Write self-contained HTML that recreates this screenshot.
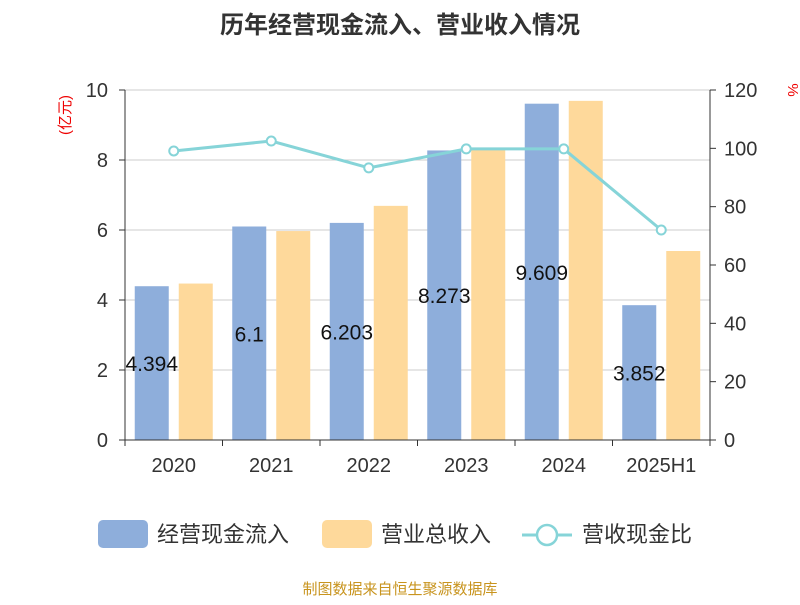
<!DOCTYPE html>
<html><head><meta charset="utf-8"><style>
body{margin:0;background:#fff;font-family:"Liberation Sans","Noto Sans CJK SC",sans-serif;}
svg text{font-family:"Liberation Sans","Noto Sans CJK SC",sans-serif;}
</style></head><body>
<svg id="c" width="800" height="600">
<text x="400" y="33" text-anchor="middle" font-size="24" font-weight="bold" fill="#333">历年经营现金流入、营业收入情况</text>
<text x="70" y="115" font-size="15" fill="#e00" transform="rotate(-90 70 115)" text-anchor="middle">(亿元)</text>
<text x="788" y="90" font-size="15" fill="#e00" transform="rotate(90 788 90)" text-anchor="middle">%</text>
<g id="grid"></g><g id="bars"></g><g id="line"></g><g id="axes"></g>
<g>
<rect x="98" y="520" width="50" height="28" rx="5" fill="#8eaedb"/>
<text x="157" y="542" font-size="22" fill="#333">经营现金流入</text>
<rect x="322" y="520" width="50" height="28" rx="5" fill="#fed99b"/>
<text x="381" y="542" font-size="22" fill="#333">营业总收入</text>
<line x1="522" y1="535" x2="572" y2="535" stroke="#86d4d8" stroke-width="3"/>
<circle cx="547" cy="535" r="10" fill="#fff" stroke="#86d4d8" stroke-width="2.5"/>
<text x="582" y="542" font-size="22" fill="#333">营收现金比</text>
</g>
<text x="400" y="594" text-anchor="middle" font-size="15" fill="#c8941e">制图数据来自恒生聚源数据库</text>
</svg>
<script>
const categories=["2020","2021","2022","2023","2024","2025H1"];
const cashInflow=[4.394,6.1,6.203,8.273,9.609,3.852];
const revenue=[4.47,5.97,6.69,8.29,9.69,5.40];
const ratio=[99.1,102.5,93.3,99.8,99.8,72.0];
const leftTicks=[0,2,4,6,8,10];
const rightTicks=[0,20,40,60,80,100,120];
const NS="http://www.w3.org/2000/svg";
const x0=125,x1=710,yb=440,yt=90;
const bw=(x1-x0)/categories.length;
const yL=v=>yb-(v/10)*(yb-yt);
const yR=v=>yb-(v/120)*(yb-yt);
function mk(tag,attrs,parent){const e=document.createElementNS(NS,tag);for(const k in attrs)e.setAttribute(k,attrs[k]);document.getElementById(parent).appendChild(e);return e;}
leftTicks.forEach(t=>{
 const l=mk('line',{x1:x0,x2:x1,y1:yL(t),y2:yL(t),stroke:'#ccc','stroke-width':1},'grid');
 
 
 const tx=mk('text',{x:108,y:yL(t)+7,'text-anchor':'end','font-size':20,fill:'#333'},'axes');tx.textContent=t;
 
 
 mk('line',{x1:x0-6,x2:x0,y1:yL(t),y2:yL(t),stroke:'#333'},'axes');
});
rightTicks.forEach(t=>{
 const tx=mk('text',{x:724,y:yR(t)+7,'font-size':20,fill:'#333'},'axes');tx.textContent=t;
 
 
 mk('line',{x1:x1,x2:x1+6,y1:yR(t),y2:yR(t),stroke:'#333'},'axes');
});
mk('line',{x1:x0,x2:x0,y1:yt,y2:yb,stroke:'#333'},'axes');
mk('line',{x1:x1,x2:x1,y1:yt,y2:yb,stroke:'#333'},'axes');
mk('line',{x1:x0,x2:x1,y1:yb,y2:yb,stroke:'#333'},'axes');
categories.forEach((c,i)=>{
 const cx=x0+bw*(i+0.5);
 mk('line',{x1:x0+bw*i,x2:x0+bw*i,y1:yb,y2:yb+6,stroke:'#333'},'axes');
 const tx=mk('text',{x:cx,y:472,'text-anchor':'middle','font-size':20,fill:'#333'},'axes');tx.textContent=c;
 
 
 const b1=mk('rect',{x:cx-39,y:yL(cashInflow[i]),width:34,height:yb-yL(cashInflow[i]),fill:'#8eaedb'},'bars');
 
 
 const b2=mk('rect',{x:cx+5,y:yL(revenue[i]),width:34,height:yb-yL(revenue[i]),fill:'#fed99b'},'bars');
 
 
 const lb=mk('text',{x:cx-22,y:yL(cashInflow[i]/2)+8,'text-anchor':'middle','font-size':21,fill:'#111'},'line');lb.textContent=cashInflow[i];
 
 
});
mk('line',{x1:x1,x2:x1,y1:yb,y2:yb+6,stroke:'#333'},'axes');
const pts=ratio.map((v,i)=>[x0+bw*(i+0.5),yR(v)]);
const pl=mk('polyline',{points:pts.map(p=>p.join(',')).join(' '),fill:'none',stroke:'#86d4d8','stroke-width':3},'line');


pts.forEach(p=>{const c=mk('circle',{cx:p[0],cy:p[1],r:4.5,fill:'#fff',stroke:'#86d4d8','stroke-width':2},'line');
 
 });
</script>
</body></html>
